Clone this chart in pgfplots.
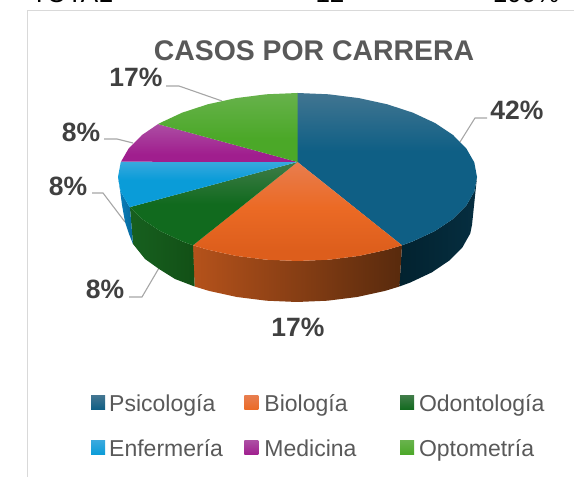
\documentclass[border=0pt]{standalone}
\usepackage{fontspec}
\setmainfont{Liberation Sans}
\usepackage{pgfplots}
\pgfplotsset{compat=1.18}
\definecolor{pS}{HTML}{0F5F85}\definecolor{pL}{HTML}{417591}
\definecolor{bS}{HTML}{EB6A25}\definecolor{bL}{HTML}{E87D4E}\definecolor{bD}{HTML}{DD5E1C}
\definecolor{oS}{HTML}{116A1E}\definecolor{oL}{HTML}{3F7C48}
\definecolor{eS}{HTML}{0A9CD8}\definecolor{eL}{HTML}{38A9DE}
\definecolor{mS}{HTML}{A01E8E}\definecolor{mL}{HTML}{AC4DA3}
\definecolor{gS}{HTML}{4BA828}\definecolor{gL}{HTML}{67B24B}
\definecolor{leader}{HTML}{A6A6A6}
\definecolor{frameC}{HTML}{D9D9D9}
\definecolor{titleC}{HTML}{595959}
\definecolor{labelC}{HTML}{404040}
% the path's box runs from 25bp to 75bp of a shading
\pgfdeclareverticalshading{psitop}{100bp}{color(0bp)=(pS);color(56bp)=(pS);color(75bp)=(pL);color(100bp)=(pL)}
\pgfdeclareverticalshading{biotop}{100bp}{color(0bp)=(bD);color(30bp)=(bD);color(52bp)=(bS);color(75bp)=(bL);color(100bp)=(bL)}
\pgfdeclareverticalshading{odotop}{100bp}{color(0bp)=(oS);color(50bp)=(oS);color(75bp)=(oL);color(100bp)=(oL)}
\pgfdeclareverticalshading{enftop}{100bp}{color(0bp)=(eS);color(55bp)=(eS);color(75bp)=(eL);color(100bp)=(eL)}
\pgfdeclareverticalshading{medtop}{100bp}{color(0bp)=(mS);color(35bp)=(mS);color(75bp)=(mL);color(100bp)=(mL)}
\pgfdeclareverticalshading{opttop}{100bp}{color(0bp)=(gS);color(42bp)=(gS);color(75bp)=(gL);color(100bp)=(gL)}
\begin{document}
\begin{tikzpicture}
\clip (0,0) rectangle (574pt,477pt);
\begin{axis}[
  at={(0,0)}, anchor=south west,
  scale only axis, width=574pt, height=477pt,
  xmin=0, xmax=574, ymin=0, ymax=477,
  hide axis, clip=false,
  legend columns=3,
  legend cell align=left,
  legend image code/.code={\path[draw=none,#1] (0pt,-5.5pt) rectangle (14pt,8.5pt);},
  legend style={
    at={(91/574,82.5/477)}, anchor=north west,
    draw=none, fill=none, inner sep=0pt, font=\fontsize{23}{27}\selectfont, text=titleC,
    nodes={inner sep=0pt, text depth=0.22em},
    /tikz/row sep=26pt,
    /tikz/column 1/.style={column sep=4pt},
    /tikz/column 2/.style={column sep=21.5pt},
    /tikz/column 3/.style={column sep=6pt},
    /tikz/column 4/.style={column sep=43.5pt},
    /tikz/column 5/.style={column sep=5pt},
  },
]
% chart frame
\addplot[forget plot, frameC, line width=1.5pt] coordinates {(27.5,0) (27.5,466.5) (574,466.5)};
% leader lines
\addplot[forget plot, leader, line width=1.1pt] coordinates {(166,391) (179,391) (222,376)};
\addplot[forget plot, leader, line width=1.1pt] coordinates {(487,359) (475,359) (460,335)};
\addplot[forget plot, leader, line width=1.1pt] coordinates {(104,338) (117,338) (133,334)};
\addplot[forget plot, leader, line width=1.1pt] coordinates {(92,284) (103,284) (125,255)};
\addplot[forget plot, leader, line width=1.1pt] coordinates {(129,180) (142,180) (159,209)};
% sides
\addplot[forget plot, draw=none, left color={rgb,255:red,2;green,34;blue,47}, right color={rgb,255:red,6;green,46;blue,64}] coordinates {
 (477,300) (474.3,285.4) (466.2,271.3) (453,258) (435,246) (412.9,235.7) (402,231.7)
 (399.4,190.5) (410.1,194.4) (431.8,204.6) (449.4,216.5) (462.4,229.6) (470.3,243.6) (472,252)} --cycle;
\addplot[forget plot, draw=none, left color={rgb,255:red,181;green,82;blue,27}, middle color={rgb,255:red,128;green,56;blue,15}, right color={rgb,255:red,88;green,42;blue,13}] coordinates {
 (402,231.7) (387.25,227.3) (358.9,221.1) (328.7,217.3) (297.5,216) (266.3,217.3) (236.1,221.1) (207.75,227.3) (193,231.7)
 (194.6,190.5) (209,186.1) (236.8,180) (266.4,176.3) (297,175) (327.6,176.3) (357.2,180) (385,186.1) (399.4,190.5)} --cycle;
\addplot[forget plot, draw=none, left color={rgb,255:red,23;green,96;blue,31}, middle color={rgb,255:red,12;green,74;blue,18}, right color={rgb,255:red,18;green,80;blue,22}] coordinates {
 (193,231.7) (182.1,235.7) (160,246) (142,258) (129.9,269.9)
 (133,233) (145,218) (159,208) (175,198) (194.6,190.5)} --cycle;
\addplot[forget plot, draw=none, left color={rgb,255:red,10;green,128;blue,191}, right color={rgb,255:red,7;green,104;blue,154}] coordinates {
 (129.9,269.9) (128.8,271.3) (120.7,285.4) (118,300) (120,287) (122,272) (125,255) (129,243) (133,233)} --cycle;
% tops
\addplot[forget plot, draw=none, shade, shading=psitop] coordinates {
 (297.5,315) (297.5,384) (328.7,382.7) (358.9,378.9) (387.25,372.7) (412.9,364.3) (435,354) (453,342) (466.2,328.7) (474.3,314.6) (477,300) (474.3,285.4) (466.2,271.3) (453,258) (435,246) (412.9,235.7) (402,231.7)} --cycle;
\addplot[forget plot, draw=none, shade, shading=biotop] coordinates {
 (297.5,315) (402,231.7) (387.25,227.3) (358.9,221.1) (328.7,217.3) (297.5,216) (266.3,217.3) (236.1,221.1) (207.75,227.3) (193,231.7)} --cycle;
\addplot[forget plot, draw=none, shade, shading=odotop] coordinates {
 (297.5,315) (193,231.7) (182.1,235.7) (160,246) (142,258) (129.9,269.9)} --cycle;
\addplot[forget plot, draw=none, shade, shading=enftop] coordinates {
 (297.5,315) (129.9,269.9) (128.8,271.3) (120.7,285.4) (118,300) (120.7,314.6) (121,315.3)} --cycle;
\addplot[forget plot, draw=none, shade, shading=medtop] coordinates {
 (297.5,315) (121,315.3) (128.8,328.7) (142,342) (158,352.9)} --cycle;
\addplot[forget plot, draw=none, shade, shading=opttop] coordinates {
 (297.5,315) (158,352.9) (160,354) (182.1,364.3) (207.75,372.7) (236.1,378.9) (266.3,382.7) (297.5,384)} --cycle;
% legend
\addlegendimage{top color=pL,bottom color=pS}\addlegendentry{Psicología}
\addlegendimage{top color=bL,bottom color=bS}\addlegendentry{Biología}
\addlegendimage{top color=oL,bottom color=oS}\addlegendentry{Odontología}
\addlegendimage{top color=eL,bottom color=eS}\addlegendentry{Enfermería}
\addlegendimage{top color=mL,bottom color=mS}\addlegendentry{Medicina}
\addlegendimage{top color=gL,bottom color=gS}\addlegendentry{Optometría}
% texts
\node[text=titleC, font=\fontsize{28.4}{30}\selectfont\bfseries] at (axis cs:314,426) {CASOS POR CARRERA};
\node[text=labelC, font=\fontsize{26.5}{28}\selectfont\bfseries] at (axis cs:136,400) {17\%};
\node[text=labelC, font=\fontsize{26.5}{28}\selectfont\bfseries] at (axis cs:517,367) {42\%};
\node[text=labelC, font=\fontsize{26.5}{28}\selectfont\bfseries] at (axis cs:81,345) {8\%};
\node[text=labelC, font=\fontsize{26.5}{28}\selectfont\bfseries] at (axis cs:68,291) {8\%};
\node[text=labelC, font=\fontsize{26.5}{28}\selectfont\bfseries] at (axis cs:105,188) {8\%};
\node[text=labelC, font=\fontsize{26.5}{28}\selectfont\bfseries] at (axis cs:298,150) {17\%};
% clipped row of the table above the chart
\node[anchor=base, font=\fontsize{26}{28}\selectfont] at (axis cs:72,474) {TOTAL};
\node[anchor=base, font=\fontsize{26}{28}\selectfont] at (axis cs:330,474) {12};
\node[anchor=base, font=\fontsize{26}{28}\selectfont] at (axis cs:526,474) {100\%};
\end{axis}
\end{tikzpicture}
\end{document}
